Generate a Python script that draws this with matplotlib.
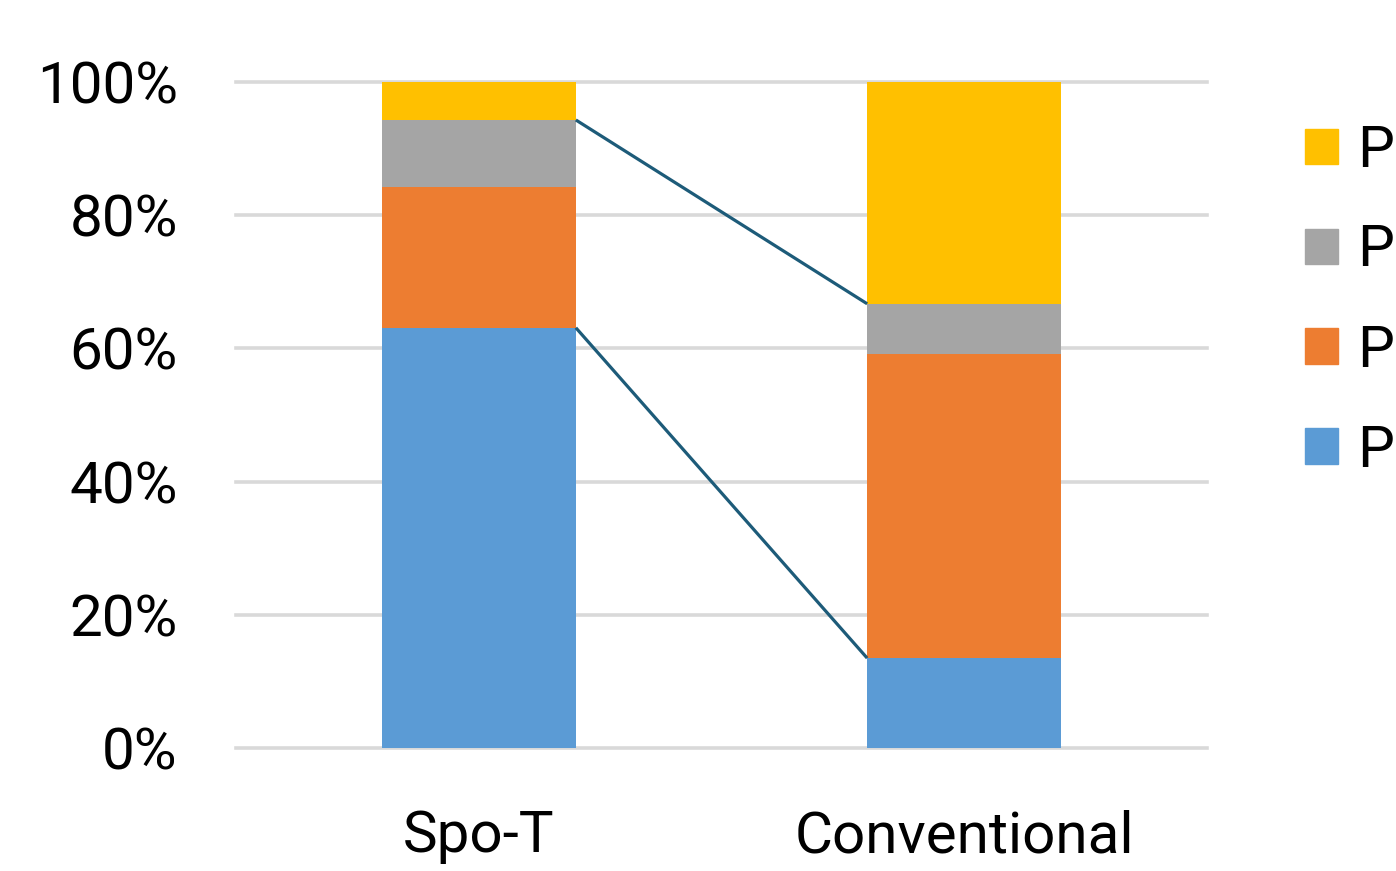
import numpy as np
import matplotlib
matplotlib.use("Agg")
import matplotlib.pyplot as plt
from matplotlib.patches import Patch

plt.rcParams['font.family'] = ['Roboto', 'DejaVu Sans']

# data: share of each level per group (percent, bottom to top)
groups   = ["Spo-T", "Conventional"]
levels   = ["PL1", "PL2", "PL3", "PL4"]
pl1      = [63.1, 13.5]
pl2      = [21.2, 45.7]
pl3      = [10.0, 7.5]
pl4      = [5.7, 33.3]
colors   = ["#5B9BD5", "#ED7D31", "#A5A5A5", "#FFC000"]
yticks   = [0, 20, 40, 60, 80, 100]

series = [pl1, pl2, pl3, pl4]
x = np.arange(len(groups))
width = 0.4

fig = plt.figure(figsize=(13.96, 8.71), dpi=100)
ax = fig.add_axes([236/1396, 1-748/871, 971/1396, 666/871])

bottom = np.zeros(len(groups))
tops = []
for vals, c in zip(series, colors):
    ax.bar(x, vals, width, bottom=bottom, color=c, zorder=2)
    bottom = bottom + np.array(vals)
    tops.append(bottom.copy())

# series lines joining the tops of PL1 and PL3 between the bars
for k in (0, 2):
    ax.plot([x[0] + width/2, x[1] - width/2], [tops[k][0], tops[k][1]],
            color="#1D5B79", lw=2.3, zorder=3, solid_capstyle="butt")

ax.set_xlim(-0.5, 1.5)
ax.set_ylim(0, 100)
ax.set_yticks(yticks)
ax.set_yticklabels([f"{v}%" for v in yticks])
ax.set_xticks(x)
ax.set_xticklabels(groups)
ax.tick_params(axis="y", length=0, pad=42, labelsize=42)
ax.tick_params(axis="x", length=0, pad=44, labelsize=42)
for s in ax.spines.values():
    s.set_visible(False)
ax.yaxis.grid(True, color="#D9D9D9", lw=2.6, zorder=0)
ax.set_axisbelow(True)
for gl in ax.yaxis.get_gridlines():
    gl.set_clip_on(False)

# legend sits at the right edge, labels run past the border
handles = [Patch(color=c, label=l) for c, l in zip(colors, levels)][::-1]
fig.legend(handles=handles, loc="upper left",
           bbox_to_anchor=(1305/1396, 1-124/871), frameon=False,
           fontsize=42, handlelength=0.56, handleheight=0.56,
           handletextpad=0.34, labelspacing=0.77, borderpad=0, borderaxespad=0)

fig.savefig("out.png", dpi=100, facecolor="white")
